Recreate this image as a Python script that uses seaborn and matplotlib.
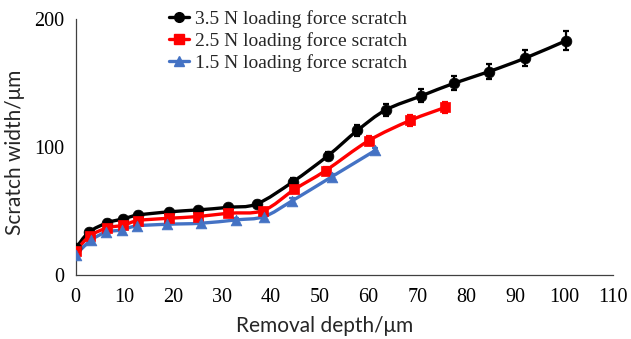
import numpy as np
import matplotlib
matplotlib.use("Agg")
import matplotlib.pyplot as plt
from matplotlib.path import Path
from matplotlib.patches import PathPatch
from matplotlib.lines import Line2D
import seaborn as sns

# Scratch width vs. removal depth for three loading forces
depth_35 = [0, 2.7, 6.5, 9.7, 12.8, 19.1, 25.0, 31.2, 37.1, 44.5, 51.7, 57.7, 63.5, 70.8, 77.4, 84.7, 92.1, 100.4]
width_35 = [21, 33.6, 41, 44, 47, 49.5, 51, 53, 55.7, 73, 93.4, 113, 129, 140, 149.7, 159, 169.5, 183]
err_35 = [2, 2, 2, 2, 2, 2, 2, 2, 2.5, 3, 3, 4.5, 5, 5, 5.5, 6, 6.5, 7.5]

depth_25 = [0, 2.9, 6.5, 9.7, 12.8, 19.1, 25.0, 31.2, 38.4, 44.8, 51.2, 60.0, 68.5, 75.7]
width_25 = [19, 30.7, 37, 39, 42.7, 44.5, 45.8, 48.4, 50.5, 67, 81.7, 105, 120.8, 131]
err_25 = [2, 2, 2, 2, 2, 2, 2, 2, 2, 2.5, 3, 3.5, 4, 4.5]

depth_15 = [0, 3.1, 6.2, 9.4, 12.5, 18.7, 25.6, 32.8, 38.6, 44.3, 52.5, 61.4]
width_15 = [16, 27.3, 33.6, 35.4, 38.5, 39.8, 40.6, 43.2, 45.8, 58, 77, 97.5]
err_15 = [1.5, 1.5, 1.5, 1.5, 1.5, 1.5, 1.5, 1.5, 1.5, 2, 2, 2]

labels = ["3.5 N loading force scratch", "2.5 N loading force scratch", "1.5 N loading force scratch"]
colors = ["#000000", "#FF0000", "#4472C4"]
markers = ["o", "s", "^"]

x_ticks = list(range(0, 111, 10))
y_ticks = [0, 100, 200]

sns.set_style("white")
plt.rcParams["font.family"] = ["Liberation Serif", "DejaVu Serif"]

fig = plt.figure(figsize=(6.31, 3.39), dpi=100)
ax = fig.add_axes([0.12, 0.188, 0.851, 0.756])


def smooth_path(xs, ys):
    """Catmull-Rom style smoothed Bezier path through the points."""
    pts = np.column_stack([xs, ys]).astype(float)
    n = len(pts)
    verts = [pts[0]]
    codes = [Path.MOVETO]
    for i in range(n - 1):
        p0 = pts[i - 1] if i > 0 else pts[i]
        p1 = pts[i]
        p2 = pts[i + 1]
        p3 = pts[i + 2] if i + 2 < n else pts[i + 1]
        c1 = p1 + (p2 - p0) / 6.0
        c2 = p2 - (p3 - p1) / 6.0
        verts += [c1, c2, p2]
        codes += [Path.CURVE4] * 3
    return Path(verts, codes)


series = [
    (depth_35, width_35, err_35),
    (depth_25, width_25, err_25),
    (depth_15, width_15, err_15),
]

handles = []
for (xs, ys, es), lab, col, mk in zip(series, labels, colors, markers):
    ax.add_patch(PathPatch(smooth_path(xs, ys), facecolor="none", edgecolor=col,
                           lw=2.4, zorder=2))
    ax.errorbar(xs, ys, yerr=es, fmt="none", ecolor=col, elinewidth=1.6,
                capsize=2.5, capthick=1.6, zorder=3)
    sns.scatterplot(x=xs, y=ys, ax=ax, marker=mk, s=60, color=col,
                    edgecolor=col, linewidth=0.5, zorder=4, legend=False)
    handles.append(Line2D([0], [0], color=col, lw=2.4, marker=mk, markersize=7,
                          markeredgecolor=col))

ax.set_xlim(0, 110)
ax.set_ylim(0, 200)
ax.set_xticks(x_ticks)
ax.set_yticks(y_ticks)
ax.tick_params(axis="x", direction="in", length=6, width=0.9, color="#404040",
               labelsize=14.5, pad=9.5)
ax.tick_params(axis="y", direction="in", length=6, width=0.9, color="#404040",
               labelsize=14.5, pad=8)
ax.tick_params(axis="both", labelcolor="#000000")

for side in ["top", "right"]:
    ax.spines[side].set_visible(False)
for side in ["left", "bottom"]:
    ax.spines[side].set_color("#404040")
    ax.spines[side].set_linewidth(0.9)

ax.set_xlabel("Removal depth/\u03bcm", family=["Lato", "DejaVu Sans"], fontsize=15)
ax.set_ylabel("Scratch width/\u03bcm", family=["Lato", "DejaVu Sans"], fontsize=15)
ax.xaxis.set_label_coords(0.464, -0.159)
ax.yaxis.set_label_coords(-0.094, 0.48)

leg = ax.legend(handles, labels, loc="upper left", bbox_to_anchor=(0.16, 1.065),
                frameon=False, fontsize=14, handlelength=1.0, handletextpad=0.3,
                labelspacing=0.22, borderaxespad=0)

fig.savefig("out.png", dpi=100)
